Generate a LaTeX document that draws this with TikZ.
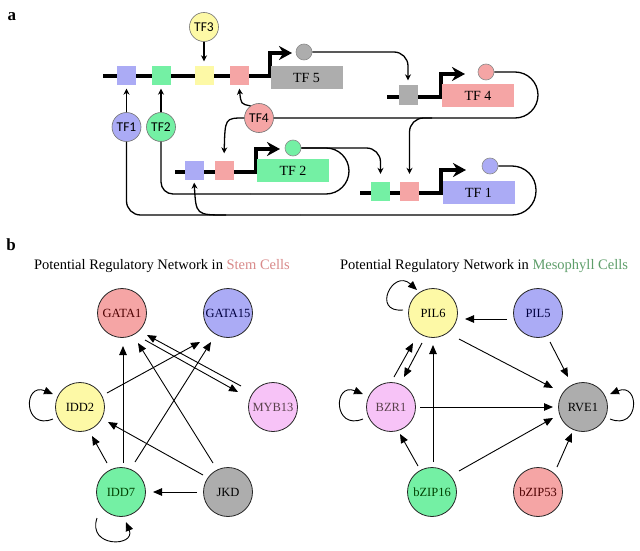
\documentclass[tikz,border=0pt]{standalone}
\usepackage{fontspec}
\setmainfont{Liberation Serif}
\newfontfamily\sanstf{Carlito}
\usetikzlibrary{arrows.meta,calc}
\definecolor{cblue}{HTML}{ABABF5}
\definecolor{cgreen}{HTML}{74F0A4}
\definecolor{cyellow}{HTML}{FDF9A6}
\definecolor{cpink}{HTML}{F5A5A5}
\definecolor{cgrey}{HTML}{ADADAD}
\definecolor{cviolet}{HTML}{F7C3F7}
\definecolor{stemred}{HTML}{D98A8A}
\definecolor{mesogreen}{HTML}{5E9E6A}
\newcommand\gedge[4]{\draw[gedgestyle] ($(#1)+(#2)$) -- ($(#3)+(#4)$);}
\begin{document}
\begin{tikzpicture}[x=1pt,y=-1pt,
  dna/.style={line width=3.1pt, line join=miter, -{Stealth[length=13pt,width=14pt]}},
  regbox/.style={rectangle, minimum width=19pt, minimum height=19pt, inner sep=0pt},
  genebox/.style={rectangle, minimum width=72pt, minimum height=23pt, inner sep=0pt, font=\fontsize{14}{14}\selectfont},
  prod/.style={circle, draw=black!45, line width=0.6pt, minimum size=16pt, inner sep=0pt},
  tfnode/.style={circle, draw=black!55, line width=0.6pt, minimum size=29pt, inner sep=0pt, font=\sanstf\fontsize{13.5}{13.5}\selectfont},
  link/.style={line width=1.3pt, -{Stealth[length=6pt,width=6pt]}},
  wire/.style={line width=1.3pt},
  gnode/.style={circle, draw=black!85, line width=0.8pt, minimum size=49pt, inner sep=0pt, font=\fontsize{12.5}{12.5}\selectfont},
  gedgestyle/.style={line width=0.9pt, -{Triangle[length=9pt,width=7.5pt]}},
  panel/.style={font=\bfseries\fontsize{17}{17}\selectfont},
  title/.style={anchor=base, font=\fontsize{14.5}{14.5}\selectfont}]
\useasboundingbox (0,0) rectangle (640,551);
\fill[white] (0,0) rectangle (640,551);

% ---------------- panel a ----------------
\node[panel] (la) at (12,17) {a};

\draw[dna] (103,76) -- (270,76) -- (270,53) -- (292,53);
\draw[dna] (387,97) -- (441,97) -- (441,74) -- (465,74);
\draw[dna] (175,172) -- (256,172) -- (256,149) -- (280,149);
\draw[dna] (360,193) -- (441,193) -- (441,170) -- (466,170);

\node[regbox, fill=cblue] (b1) at (126.5,76) {};
\node[regbox, fill=cgreen] (g1) at (161,76) {};
\node[regbox, fill=cyellow] (y1) at (204,76) {};
\node[regbox, fill=cpink] (p1) at (239,76) {};
\node[genebox, fill=cgrey] (tf5) at (306.5,77.5) {TF 5};
\node[prod, fill=cgrey] (c5) at (304,52) {};

\node[regbox, fill=cgrey] (gb) at (408,95) {};
\node[genebox, fill=cpink] (tf4) at (478,95.5) {TF 4};
\node[prod, fill=cpink] (c4) at (486,72) {};

\node[regbox, fill=cblue] (b2) at (194,170) {};
\node[regbox, fill=cpink] (p2) at (224,170) {};
\node[genebox, fill=cgreen] (tf2) at (293,170.5) {TF 2};
\node[prod, fill=cgreen] (c2) at (293,148) {};

\node[regbox, fill=cgreen] (g3) at (380.5,191.5) {};
\node[regbox, fill=cpink] (p3) at (409.5,191.5) {};
\node[genebox, fill=cblue] (tf1) at (478.5,192.5) {TF 1};
\node[prod, fill=cblue] (c1) at (490,166) {};

\node[tfnode, fill=cyellow] (n3) at (204,27) {TF3};
\node[tfnode, fill=cblue] (n1) at (126.5,127) {TF1};
\node[tfnode, fill=cgreen] (n2) at (161,127) {TF2};
\node[tfnode, fill=cpink] (n4) at (259,118) {TF4};

\coordinate (j4) at (432,118);
\coordinate (j1) at (300,215);
\coordinate (j1b) at (226,215);
\coordinate (j2) at (250,194);

\draw[link, rounded corners=14pt, shorten >=5pt] (c5.east) -| (gb.north);
\draw[wire, rounded corners=23pt] (c4.east) -- (538,72) -- (538,118) -- (n4.east);
\draw[link, rounded corners=14pt, shorten >=8pt] (j4) -| (p3.north);
\draw[wire, rounded corners=24pt] (c1.east) -- (536,166) -- (536,215) -- (j1);
\draw[wire, rounded corners=14pt] (j1) -| (n1.south);
\draw[link, shorten >=3pt] (j1b) .. controls (196,215) .. (b2.south);
\draw[wire, rounded corners=23pt] (c2.east) -- (349,148) -- (349,194) -- (j2);
\draw[wire, rounded corners=12pt] (j2) -| (n2.south);
\draw[link, rounded corners=14pt, shorten >=8pt] (c2.east) -| (g3.north);
\draw[link, shorten >=3pt] (n4.125) .. controls (241,104) .. (p1.south);
\draw[link, shorten >=7pt] (n4.west) .. controls (225,118) .. (p2.north);
\draw[link, shorten >=5pt] (n3) -- (y1);
\draw[link, shorten >=3pt] (n1) -- (b1);
\draw[link, shorten >=3pt] (n2) -- (g1);

% ---------------- panel b ----------------
\node[panel] (lb) at (11,245) {b};
\node[title] (t1) at (162,269) {Potential Regulatory Network in \textcolor{stemred}{Stem Cells}};
\node[title] (t2) at (484,269) {Potential Regulatory Network in \textcolor{mesogreen}{Mesophyll Cells}};

\node[gnode, fill=cpink, text=black!70!red] (G1) at (122,313) {GATA1};
\node[gnode, fill=cblue, text=black!75!blue] (G15) at (228,313) {GATA15};
\node[gnode, fill=cyellow] (I2) at (80,407) {IDD2};
\node[gnode, fill=cviolet, text=black!75!magenta] (M) at (273,407) {MYB13};
\node[gnode, fill=cgreen, text=black!75!green] (I7) at (121,492) {IDD7};
\node[gnode, fill=cgrey] (J) at (228,492) {JKD};

\gedge{I2}{27,-14}{G15}{-28,29}
\gedge{I7}{2,-29}{G1}{1,33}
\gedge{I7}{14,-30}{G15}{-17,29}
\gedge{J}{-15,-29}{G1}{16,30}
\gedge{G1}{23,27}{M}{-35,-15}
\gedge{M}{-32,-21}{G1}{25,22}
\gedge{J}{-25,-17}{I2}{28,15}
\gedge{I7}{-14,-29}{I2}{12,29}
\gedge{J}{-31,0}{I7}{32,0}
\draw[gedgestyle] ($(I2)+(-27,12)$) .. controls ($(I2)+(-57,24)$) and ($(I2)+(-57,-25)$) .. ($(I2)+(-27,-13)$);
\draw[gedgestyle] ($(I7)+(-24,26)$) .. controls ($(I7)+(-34,56)$) and ($(I7)+(15,55)$) .. ($(I7)+(5,30)$);

\node[gnode, fill=cyellow] (P6) at (433,313) {PIL6};
\node[gnode, fill=cblue, text=black!75!blue] (P5) at (538,313) {PIL5};
\node[gnode, fill=cviolet, text=black!75!magenta] (B) at (391,407) {BZR1};
\node[gnode, fill=cgrey] (R) at (583,407) {RVE1};
\node[gnode, fill=cgreen, text=black!75!green] (Z16) at (432,492) {bZIP16};
\node[gnode, fill=cpink, text=black!70!red] (Z53) at (538,492) {bZIP53};

\gedge{P5}{-31,6}{P6}{32,6}
\gedge{P5}{12,29}{R}{-15,-30}
\gedge{P6}{26,26}{R}{-30,-19}
\gedge{B}{3,-30}{P6}{-20,30}
\gedge{P6}{-11,30}{B}{13,-30}
\gedge{Z16}{1,-30}{P6}{0,32}
\gedge{B}{29,0}{R}{-30,0}
\gedge{Z16}{-14,-26}{B}{9,27}
\gedge{Z16}{27,-21}{R}{-30,11}
\gedge{Z53}{19,-25}{R}{-11,26}
\draw[gedgestyle] ($(P6)+(-30,-3)$) .. controls ($(P6)+(-62,0)$) and ($(P6)+(-40,-45)$) .. ($(P6)+(-16,-23)$);
\draw[gedgestyle] ($(B)+(-28,12)$) .. controls ($(B)+(-58,24)$) and ($(B)+(-58,-25)$) .. ($(B)+(-28,-13)$);
\draw[gedgestyle] ($(R)+(27,12)$) .. controls ($(R)+(57,24)$) and ($(R)+(57,-25)$) .. ($(R)+(27,-13)$);
\end{tikzpicture}
\end{document}
